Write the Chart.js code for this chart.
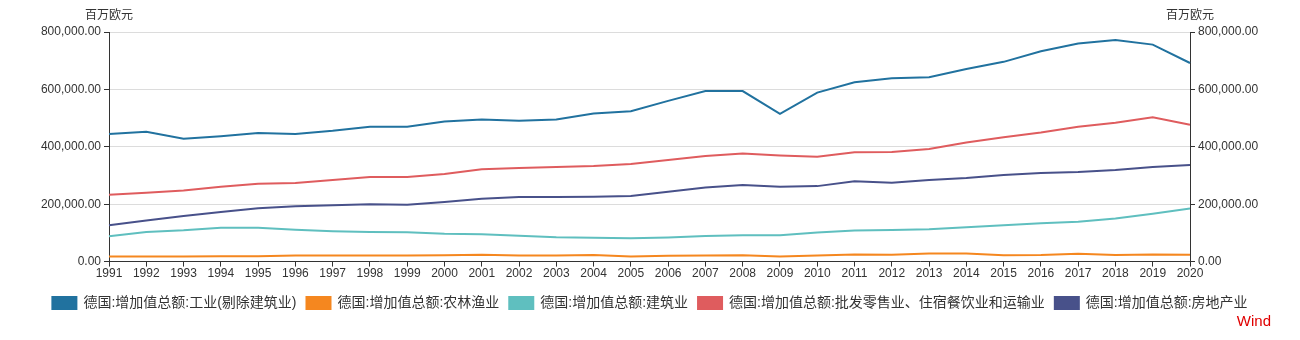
<!DOCTYPE html>
<html>
<head>
<meta charset="utf-8">
<script src="https://cdn.jsdelivr.net/npm/chart.js@4.4.1/dist/chart.umd.min.js"></script>
<style>
  html, body { margin: 0; padding: 0; background: #fff; }
  #wrap { width: 1300px; height: 340px; position: relative; }
</style>
</head>
<body>
<div id="wrap"><canvas id="c" width="1300" height="340"></canvas></div>
<script>
// ============================================================
//  德国 增加值总额 分行业 (百万欧元), 1991-2020
// ============================================================

const years = ["1991","1992","1993","1994","1995","1996","1997","1998","1999","2000",
               "2001","2002","2003","2004","2005","2006","2007","2008","2009","2010",
               "2011","2012","2013","2014","2015","2016","2017","2018","2019","2020"];

const industry    = [445000, 452000, 428000, 437000, 448000, 445000, 456000, 470000, 470000, 488000,
                     495000, 491000, 495000, 516000, 524000, 560000, 594000, 594000, 515000, 589000,
                     625000, 639000, 642000, 671000, 696000, 733000, 760000, 772000, 756000, 692000];
const agriculture = [18000, 18000, 18000, 19000, 19000, 21000, 21000, 21000, 21000, 22000,
                     24000, 21000, 21000, 23000, 18000, 20000, 21000, 22000, 18000, 21000,
                     25000, 24000, 28000, 28000, 22000, 23000, 27000, 23000, 25000, 24000];
const construction= [88000, 103000, 109000, 118000, 118000, 111000, 106000, 103000, 102000, 97000,
                     95000, 90000, 85000, 83000, 81000, 84000, 89000, 92000, 92000, 101000,
                     108000, 110000, 113000, 120000, 127000, 134000, 139000, 150000, 167000, 185000];
const trade       = [233000, 240000, 248000, 261000, 271000, 274000, 284000, 295000, 295000, 305000,
                     322000, 326000, 330000, 333000, 340000, 354000, 368000, 377000, 370000, 365000,
                     381000, 382000, 392000, 415000, 433000, 450000, 470000, 484000, 503000, 477000];
const realEstate  = [127000, 143000, 159000, 173000, 186000, 193000, 196000, 200000, 198000, 208000,
                     219000, 225000, 225000, 226000, 229000, 243000, 258000, 267000, 261000, 263000,
                     280000, 275000, 284000, 291000, 302000, 309000, 312000, 319000, 330000, 337000];

const seriesNames = ["德国:增加值总额:工业(剔除建筑业)", "德国:增加值总额:农林渔业", "德国:增加值总额:建筑业",
                     "德国:增加值总额:批发零售业、住宿餐饮业和运输业", "德国:增加值总额:房地产业"];
const seriesColors = ["#21729f", "#f5871f", "#5fbfbf", "#df5c5e", "#48518a"];

const yTicks = [0, 200000, 400000, 600000, 800000];
const unit = "百万欧元";

const FONT = "'Liberation Sans', 'Noto Sans CJK SC', sans-serif";
const fmt = v => Number(v).toLocaleString("en-US", { minimumFractionDigits: 2, maximumFractionDigits: 2 });

// 轴上方的单位 + 右下角 Wind
const extras = {
  id: "extras",
  afterDraw(chart) {
    const ctx = chart.ctx;
    const a = chart.chartArea;
    ctx.save();
    ctx.fillStyle = "#333";
    ctx.font = "12px " + FONT;
    ctx.textAlign = "center";
    ctx.textBaseline = "middle";
    ctx.fillText(unit, a.left, 16);
    ctx.fillText(unit, a.right, 16);
    ctx.fillStyle = "#e00000";
    ctx.font = "15px " + FONT;
    ctx.textAlign = "right";
    ctx.fillText("Wind", 1271, 322);
    ctx.restore();
  }
};

const datasets = [industry, agriculture, construction, trade, realEstate].map((d, i) => ({
  label: seriesNames[i],
  data: d,
  borderColor: seriesColors[i],
  backgroundColor: seriesColors[i],
  borderWidth: 2,
  pointRadius: 0,
  tension: 0,
  yAxisID: "y",
}));

const yAxis = (pos) => ({
  position: pos,
  min: 0, max: 800000,
  afterBuildTicks: s => { s.ticks = yTicks.map(v => ({ value: v })); },
  afterFit: s => { s.width = pos === "left" ? 109 : 110; },
  grid: { color: pos === "left" ? "#dcdcdc" : "transparent", drawOnChartArea: pos === "left",
          tickColor: "#333", tickLength: 5 },
  border: { color: "#333", width: 1 },
  ticks: { color: "#333", font: { family: FONT, size: 12 }, padding: 3, callback: v => fmt(v) },
});

new Chart(document.getElementById("c").getContext("2d"), {
  type: "line",
  data: { labels: years, datasets },
  options: {
    responsive: false,
    animation: false,
    layout: { padding: { top: 32, bottom: 20, left: 0, right: 0 } },
    plugins: {
      legend: {
        position: "bottom",
        labels: { boxWidth: 24, boxHeight: 12, color: "#333", font: { family: FONT, size: 14 }, padding: 10 },
      },
      tooltip: { enabled: false },
    },
    scales: {
      x: {
        offset: false,
        afterFit: s => { s.height += 5; },
        grid: { drawOnChartArea: false, tickColor: "#333", tickLength: 5 },
        border: { color: "#333", width: 1 },
        ticks: { color: "#333", font: { family: FONT, size: 12 }, maxRotation: 0, autoSkip: false, padding: 0 },
      },
      y: yAxis("left"),
      y2: yAxis("right"),
    },
  },
  plugins: [extras],
});
</script>
</body>
</html>
